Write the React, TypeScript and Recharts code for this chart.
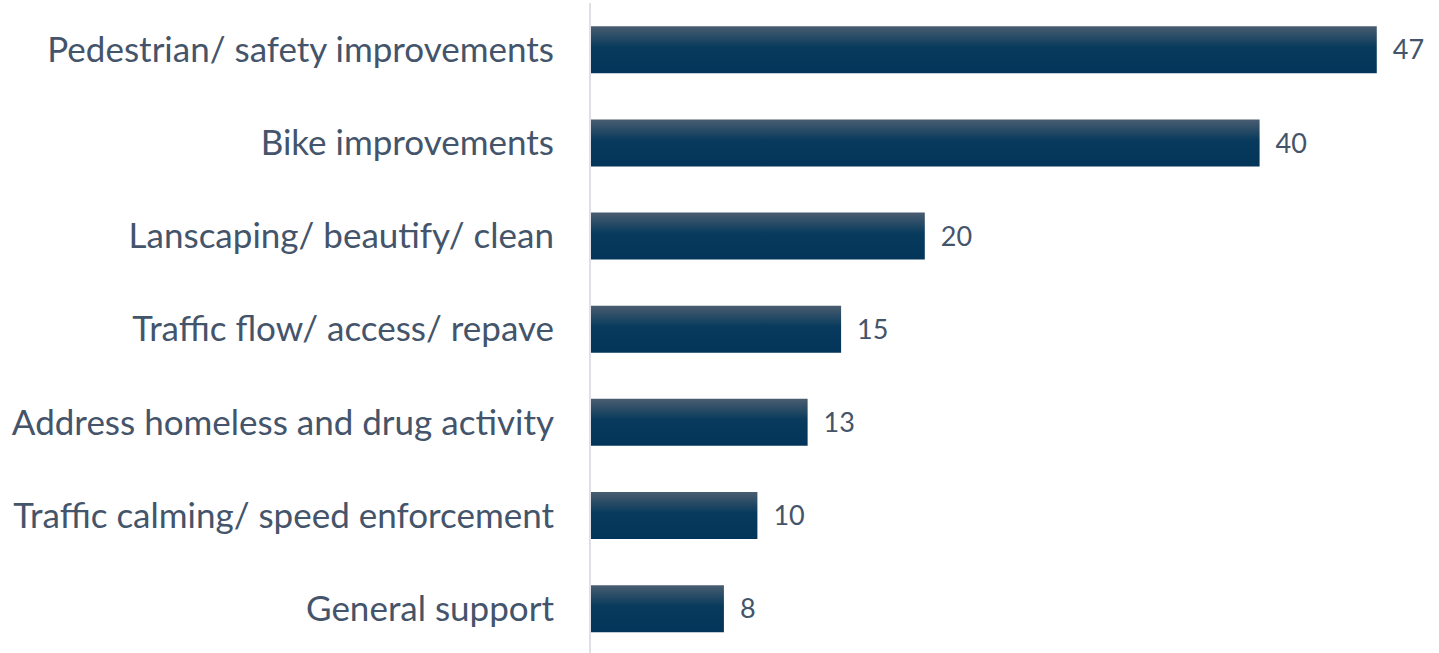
import React from 'react';
import { BarChart, Bar, XAxis, YAxis, LabelList } from 'recharts';

const categories = [
  'Pedestrian/ safety improvements',
  'Bike improvements',
  'Lanscaping/ beautify/ clean',
  'Traffic flow/ access/ repave',
  'Address homeless and drug activity',
  'Traffic calming/ speed enforcement',
  'General support',
];
const values = [47, 40, 20, 15, 13, 10, 8];

const data = categories.map((c, i) => ({ name: c, value: values[i] }));

const FONT = 'Lato, "Open Sans", sans-serif';

export default function App() {
  return (
    <div style={{ position: 'absolute', left: 0, top: 0, background: '#fff' }}>
      <BarChart
        width={1439}
        height={660}
        data={data}
        layout="vertical"
        margin={{ top: 3, right: 12, bottom: 5, left: 0 }}
        barCategoryGap="25%"
      >
        <defs>
          <linearGradient id="barGrad" x1="0" y1="0" x2="0" y2="1">
            <stop offset="0%" stopColor="#4a5d70" />
            <stop offset="45%" stopColor="#073a5c" />
            <stop offset="100%" stopColor="#03355a" />
          </linearGradient>
        </defs>
        <XAxis type="number" domain={[0, 50]} hide />
        <YAxis
          type="category"
          dataKey="name"
          width={590}
          axisLine={{ stroke: '#dde1e6', strokeWidth: 2 }}
          tickLine={false}
          tickSize={0}
          tickMargin={36}
          tick={{ fill: '#44546a', fontSize: 35, fontFamily: FONT }}
          interval={0}
        />
        <Bar dataKey="value" fill="url(#barGrad)" isAnimationActive={false}>
          <LabelList
            dataKey="value"
            position="right"
            offset={16}
            style={{ fill: '#44546a', fontSize: 27, fontFamily: FONT }}
          />
        </Bar>
      </BarChart>
    </div>
  );
}
